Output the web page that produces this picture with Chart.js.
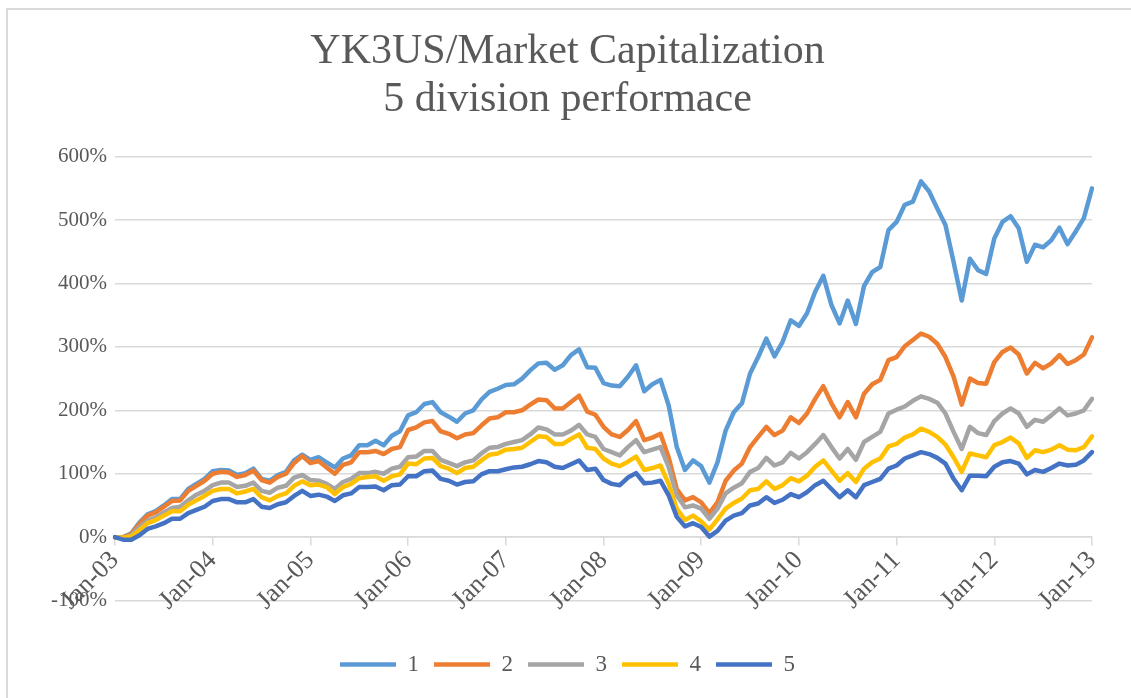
<!DOCTYPE html>
<html>
<head>
<meta charset="utf-8">
<script src="https://cdn.jsdelivr.net/npm/chart.js@4.4.1/dist/chart.umd.min.js"></script>
<style>
  html, body { margin: 0; padding: 0; background: #fff; overflow: hidden; }
  #frame { position: absolute; left: 6px; top: 8px; width: 1200px; height: 800px; border: 2px solid #d9d9d9; }
  #chart { position: absolute; left: 0; top: 0; }
</style>
</head>
<body>
<div id="frame"></div>
<canvas id="chart" width="1131" height="698"></canvas>
<script>
// monthly points, Jan-03 .. Jan-13 (121 values each), cumulative return in %
var monthNames = ["Jan","Feb","Mar","Apr","May","Jun","Jul","Aug","Sep","Oct","Nov","Dec"];
var firstYear = 3, lastYear = 13;
var yTicks = [-100, 0, 100, 200, 300, 400, 500, 600];
var seriesNames = ["1", "2", "3", "4", "5"];

var div1 = [
  0,0,6,23,36,41,50,60,60,76,84,92,104,106,105,98,101,108,92,89,98,103,121,130,122,
  126,118,110,124,129,145,145,152,145,160,167,192,197,210,213,197,190,182,195,200,217,229,234,240,241,
  250,263,274,275,264,271,287,296,268,267,243,239,238,253,271,230,241,248,208,142,106,121,112,86,118,
  168,197,211,258,284,313,285,308,342,333,353,387,412,366,337,373,336,396,418,426,484,497,
  524,529,561,545,518,492,434,373,439,421,415,471,497,506,487,434,461,457,468,488,462,482,503,550
];
var div2 = [
  0,0,5,21,34,39,48,57,58,73,81,89,100,103,102,95,98,105,90,86,95,100,117,128,117,
  120,110,100,114,118,134,134,136,131,139,142,169,173,181,183,167,163,156,162,164,176,187,189,197,197,
  200,209,217,216,203,203,213,223,198,193,174,162,158,169,183,153,157,163,126,76,58,63,55,38,55,
  89,105,116,142,158,174,161,168,189,180,195,218,238,211,189,213,189,226,241,248,279,284,
  301,311,321,316,305,284,253,209,250,243,242,276,292,299,288,258,275,266,274,287,273,279,288,315
];
var div3 = [
  0,-1,3,16,26,31,39,46,48,58,67,73,82,86,86,79,81,86,73,70,78,81,94,98,90,
  89,84,76,87,92,101,101,103,100,108,111,126,127,136,136,122,117,112,118,121,132,141,142,147,150,
  153,162,173,170,162,162,168,177,162,158,139,134,129,142,153,134,138,142,111,66,47,50,45,29,45,
  69,78,85,103,109,125,113,118,133,124,134,147,161,142,124,139,122,150,158,166,195,201,
  206,215,222,218,212,195,166,139,174,164,161,183,195,203,195,174,185,182,192,203,192,195,200,218
];
var div4 = [
  0,-1,1,11,22,27,34,41,41,51,58,65,73,76,76,69,72,76,63,58,65,69,81,88,82,
  83,79,68,79,84,93,95,96,89,96,99,116,115,124,125,112,108,101,109,111,121,130,132,138,139,
  141,150,159,158,147,147,155,162,141,139,124,116,112,119,127,106,109,113,84,45,27,34,25,12,28,
  45,54,61,74,76,88,76,82,93,88,97,111,121,105,89,101,87,108,118,124,143,147,
  157,162,171,166,158,146,126,103,132,129,126,145,150,157,148,125,137,134,138,145,138,137,142,159
];
var div5 = [
  0,-4,-4,3,13,17,22,29,29,38,43,48,57,60,60,55,55,60,48,46,52,55,65,73,65,
  67,64,57,66,69,79,79,80,74,82,83,96,96,104,105,92,89,83,87,88,99,104,104,107,110,
  111,115,120,118,111,109,115,121,106,108,90,84,82,94,101,85,86,89,66,32,17,22,16,1,10,
  26,34,38,50,53,63,54,59,68,63,71,82,89,76,63,74,63,82,87,92,108,113,
  124,129,134,131,125,116,92,74,97,97,96,111,118,120,116,99,106,103,109,116,113,114,121,134
];

// category labels "Jan-03" ... "Jan-13"
var labels = [];
for (var y = firstYear; y <= lastYear; y++) {
  for (var m = 0; m < 12; m++) {
    if (y === lastYear && m > 0) break;
    labels.push(monthNames[m] + "-" + (y < 10 ? "0" + y : "" + y));
  }
}

var colors = ["#5b9bd5", "#ed7d31", "#a5a5a5", "#ffc000", "#4472c4"];
var allData = [div1, div2, div3, div4, div5];
var FONT = "'Liberation Serif', 'Times New Roman', serif";
var GREY = "#595959";
var GRID = "#d9d9d9";

var datasets = [];
for (var i = 0; i < allData.length; i++) {
  datasets.push({
    label: seriesNames[i],
    data: allData[i],
    borderColor: colors[i],
    backgroundColor: colors[i],
    borderWidth: 4.5,
    borderJoinStyle: "round",
    borderCapStyle: "round",
    pointRadius: 0,
    tension: 0,
    fill: false,
    order: allData.length - i   // series 5 drawn on top, like Excel
  });
}

Chart.defaults.font.family = FONT;
Chart.defaults.color = GREY;

var ctx = document.getElementById("chart").getContext("2d");
new Chart(ctx, {
  type: "line",
  data: { labels: labels, datasets: datasets },
  options: {
    responsive: false,
    animation: false,
    devicePixelRatio: 1,
    layout: { padding: { top: 0, left: 43, right: 39, bottom: 12 } },
    plugins: {
      tooltip: { enabled: false },
      title: {
        display: true,
        text: ["YK3US/Market Capitalization", "5 division performace"],
        color: GREY,
        font: { family: FONT, size: 42, weight: "normal", lineHeight: 1.15 },
        padding: { top: 28, bottom: 32 }
      },
      legend: {
        position: "bottom",
        title: { display: true, text: "", padding: { top: 0, bottom: 23 }, font: { size: 12 } },
        labels: {
          usePointStyle: true,
          pointStyle: "line",
          pointStyleWidth: 56,
          padding: 15,
          color: GREY,
          font: { family: FONT, size: 23 },
          sort: function(a, b) { return a.datasetIndex - b.datasetIndex; }
        }
      }
    },
    scales: {
      x: {
        position: { y: 0 },
        offset: false,
        grid: {
          drawOnChartArea: false,
          drawTicks: true,
          tickLength: 8,
          lineWidth: 1.5,
          color: function(c) { return c.index % 12 === 0 ? GRID : "rgba(0,0,0,0)"; }
        },
        border: { display: true, color: GRID, width: 1.5 },
        ticks: {
          autoSkip: false,
          maxRotation: 45,
          minRotation: 45,
          padding: 0,
          color: GREY,
          font: { family: FONT, size: 26 },
          callback: function(val, idx) { return idx % 12 === 0 ? this.getLabelForValue(val) : ""; }
        }
      },
      y: {
        min: yTicks[0],
        max: yTicks[yTicks.length - 1],
        afterBuildTicks: function(axis) { axis.ticks = yTicks.map(function(v) { return { value: v }; }); },
        grid: { color: GRID, lineWidth: 1.5, drawTicks: false },
        border: { display: false },
        ticks: {
          padding: 8,
          color: GREY,
          font: { family: FONT, size: 21 },
          callback: function(v) { return v + "%"; }
        }
      }
    }
  }
});
</script>
</body>
</html>
